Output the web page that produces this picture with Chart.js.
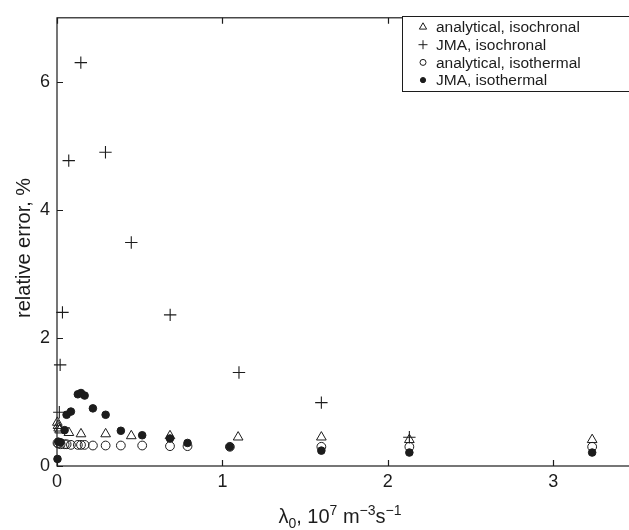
<!DOCTYPE html>
<html><head><meta charset="utf-8">
<script src="https://cdn.jsdelivr.net/npm/chart.js@4/dist/chart.umd.min.js"></script>
<style>
html,body{margin:0;padding:0;background:#fff;overflow:hidden}
#wrap{width:650px;height:530px}
</style></head><body>
<div id="wrap"><canvas id="c" width="650" height="530"></canvas></div>
<script>
// relative error of the fitted rate vs nucleation rate lambda0
const xTicks=[0,1,2,3];
const yTicks=[0,2,4,6];

// isochronal runs
const anaChronX=[0.002,0.006,0.010,0.016,0.072,0.145,0.294,0.449,0.683,1.095,1.598,2.130,3.235];
const anaChronY=[0.68,0.63,0.59,0.56,0.52,0.50,0.50,0.47,0.47,0.45,0.45,0.41,0.41];
const jmaChronX=[0.014,0.019,0.033,0.071,0.144,0.293,0.449,0.684,1.100,1.598,2.130];
const jmaChronY=[0.84,1.58,2.40,4.77,6.30,4.90,3.49,2.36,1.46,0.99,0.45];

// isothermal runs
const thermX=[0.003,0.008,0.022,0.046,0.058,0.084,0.126,0.145,0.167,0.217,0.294,0.386,0.515,0.683,0.789,1.045,1.598,2.130,3.235];
const anaThermY=[0.36,0.35,0.34,0.34,0.34,0.33,0.33,0.33,0.33,0.32,0.32,0.32,0.32,0.31,0.31,0.30,0.30,0.30,0.30];
const jmaThermY=[0.11,0.38,0.37,0.56,0.80,0.85,1.12,1.14,1.10,0.90,0.80,0.55,0.48,0.43,0.36,0.30,0.24,0.21,0.21];

const FONT='"Liberation Sans", Arial, Helvetica, sans-serif';
const INK='#1c1c1c';
const pts=(xs,ys)=>xs.map((x,i)=>({x,y:ys[i]}));

// frame with inward ticks, axis titles
const framePlugin={id:'frame',
  beforeDatasetsDraw(chart){
    const {ctx,chartArea:a,scales:{x,y}}=chart;
    ctx.save();
    ctx.strokeStyle=INK;ctx.lineWidth=1.2;
    ctx.strokeRect(a.left,a.top,a.right-a.left,a.bottom-a.top);
    ctx.beginPath();
    xTicks.forEach(v=>{const px=Math.round(x.getPixelForValue(v))+0.5;
      ctx.moveTo(px,a.bottom);ctx.lineTo(px,a.bottom-6);
      ctx.moveTo(px,a.top);ctx.lineTo(px,a.top+6);});
    yTicks.forEach(v=>{const py=Math.round(y.getPixelForValue(v))+0.5;
      ctx.moveTo(a.left,py);ctx.lineTo(a.left+6,py);
      ctx.moveTo(a.right,py);ctx.lineTo(a.right-6,py);});
    ctx.stroke();

    ctx.fillStyle=INK;
    // y title
    ctx.save();
    ctx.translate(30,(a.top+a.bottom)/2+6);ctx.rotate(-Math.PI/2);
    ctx.font='20px '+FONT;ctx.textAlign='center';ctx.textBaseline='alphabetic';
    ctx.fillText('relative error, %',0,0);
    ctx.restore();

    // x title: λ0, 10^7 m^-3 s^-1
    const parts=[['λ',0,1],['0',5,0.7],[', 10',0,1],['7',-8,0.7],[' m',0,1],['−3',-8,0.7],['s',0,1],['−1',-8,0.7]];
    let w=0;
    parts.forEach(p=>{ctx.font=(20*p[2])+'px '+FONT;w+=ctx.measureText(p[0]).width;});
    let cx=340-w/2;const base=523;
    ctx.textAlign='left';ctx.textBaseline='alphabetic';
    parts.forEach(p=>{ctx.font=(20*p[2])+'px '+FONT;ctx.fillText(p[0],cx,base+p[1]);cx+=ctx.measureText(p[0]).width;});
    ctx.restore();
  },
  afterDraw(chart){
    // legend box, upper right
    const {ctx}=chart;
    ctx.save();
    ctx.fillStyle='#fff';ctx.strokeStyle=INK;ctx.lineWidth=1;
    ctx.fillRect(402.5,16.5,260,75);ctx.strokeRect(402.5,16.5,260,75);
    const sizes=[4.2,4.5,3,2.6];
    chart.data.datasets.forEach((d,i)=>{
      const yy=27+i*17.7;
      ctx.strokeStyle=INK;ctx.fillStyle=d.pointBackgroundColor;ctx.lineWidth=1;
      Chart.helpers.drawPoint(ctx,{pointStyle:d.pointStyle,rotation:0,radius:sizes[i],borderWidth:1},423,yy);
      ctx.fillStyle=INK;ctx.font='15.5px '+FONT;ctx.textBaseline='middle';ctx.textAlign='left';
      ctx.fillText(d.label,436,yy+1);
    });
    ctx.restore();
  }};

new Chart(document.getElementById('c'),{type:'scatter',
  data:{datasets:[
    {label:'analytical, isochronal',data:pts(anaChronX,anaChronY),pointStyle:'triangle',pointRadius:5.6,
      pointBorderColor:INK,pointBackgroundColor:'rgba(0,0,0,0)',pointBorderWidth:1,order:4,clip:false},
    {label:'JMA, isochronal',data:pts(jmaChronX,jmaChronY),pointStyle:'cross',pointRadius:6.2,
      pointBorderColor:INK,pointBackgroundColor:'rgba(0,0,0,0)',pointBorderWidth:1.1,order:3,clip:false},
    {label:'analytical, isothermal',data:pts(thermX,anaThermY),pointStyle:'circle',pointRadius:4.4,
      pointBorderColor:INK,pointBackgroundColor:'rgba(0,0,0,0)',pointBorderWidth:1,order:2,clip:false},
    {label:'JMA, isothermal',data:pts(thermX,jmaThermY),pointStyle:'circle',pointRadius:3.8,
      pointBorderColor:INK,pointBackgroundColor:INK,pointBorderWidth:1,order:1,clip:false}
  ]},
  options:{responsive:false,animation:false,devicePixelRatio:1,
    layout:{padding:{top:12,right:14,left:0,bottom:0}},
    plugins:{legend:{display:false},tooltip:{enabled:false}},
    elements:{point:{hoverRadius:0}},
    scales:{
      x:{type:'linear',min:0,max:3.5,
        afterBuildTicks:s=>{s.ticks=xTicks.map(v=>({value:v}));},
        afterFit:s=>{s.height=64;},
        grid:{display:false,drawTicks:false},border:{display:false},
        ticks:{font:{family:FONT,size:18},color:INK,padding:5,maxRotation:0}},
      y:{type:'linear',min:0,max:7,
        afterBuildTicks:s=>{s.ticks=yTicks.map(v=>({value:v}));},
        afterFit:s=>{s.width=57;},
        grid:{display:false,drawTicks:false},border:{display:false},
        ticks:{font:{family:FONT,size:18},color:INK,padding:7}}
    }},
  plugins:[framePlugin]
});
</script>
</body></html>
